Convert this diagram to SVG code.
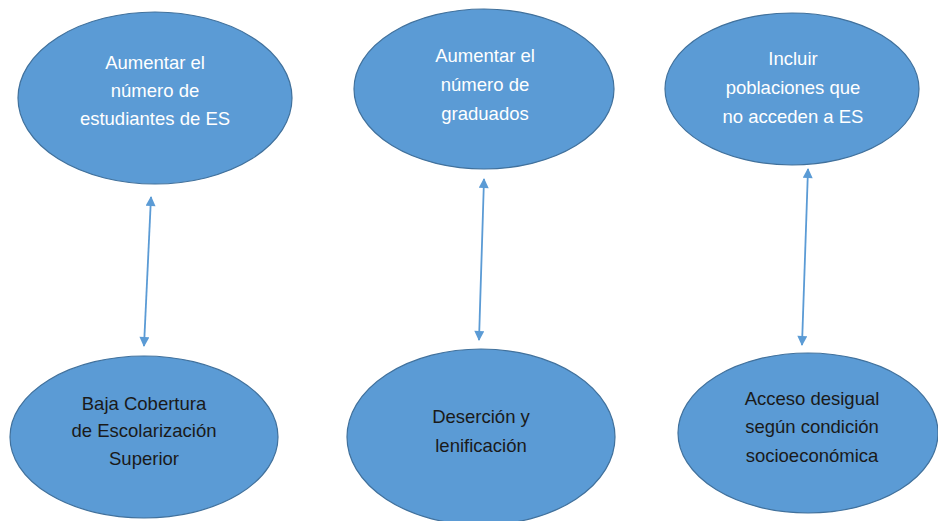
<svg xmlns="http://www.w3.org/2000/svg" width="938" height="521" viewBox="0 0 938 521">
<style>
.node ellipse{fill:#5B9BD5;stroke:#41719C;stroke-width:1.2}
text{font-family:"Liberation Sans",Arial,sans-serif;font-size:18.5px;text-anchor:middle}
.top text{fill:#ffffff}
.bot text{fill:#1a1a1a}
.conn line{stroke:#5B9BD5;stroke-width:1.8;fill:none}
</style>
<defs>
<marker id="ah" viewBox="0 0 10 10" refX="9" refY="5" markerWidth="11" markerHeight="10" markerUnits="userSpaceOnUse" orient="auto-start-reverse">
<path d="M0,0 L10,5 L0,10 z" fill="#5B9BD5"/>
</marker>
</defs>
<rect width="938" height="521" fill="#ffffff"/>
<g id="n1" class="node top">
<ellipse cx="155" cy="98" rx="137" ry="86"/>
<text x="155" y="69">Aumentar el</text>
<text x="155" y="97">número de</text>
<text x="155" y="125">estudiantes de ES</text>
</g>
<g id="n2" class="node top">
<ellipse cx="484" cy="89" rx="130" ry="80"/>
<text x="485" y="62">Aumentar el</text>
<text x="485" y="91">número de</text>
<text x="485" y="120">graduados</text>
</g>
<g id="n3" class="node top">
<ellipse cx="792" cy="89" rx="127" ry="76"/>
<text x="793" y="65">Incluir</text>
<text x="793" y="94">poblaciones que</text>
<text x="793" y="123">no acceden a ES</text>
</g>
<g id="n4" class="node bot">
<ellipse cx="144" cy="437" rx="134" ry="81"/>
<text x="144" y="410">Baja Cobertura</text>
<text x="144" y="437">de Escolarización</text>
<text x="144" y="465">Superior</text>
</g>
<g id="n5" class="node bot">
<ellipse cx="481" cy="437" rx="134" ry="88"/>
<text x="481" y="423">Deserción y</text>
<text x="481" y="452">lenificación</text>
</g>
<g id="n6" class="node bot">
<ellipse cx="808" cy="433" rx="130" ry="80"/>
<text x="812" y="405">Acceso desigual</text>
<text x="812" y="433">según condición</text>
<text x="812" y="462">socioeconómica</text>
</g>
<g id="connectors" class="conn">
<line x1="151" y1="197" x2="144" y2="346" marker-start="url(#ah)" marker-end="url(#ah)"/>
<line x1="484" y1="179" x2="479" y2="340" marker-start="url(#ah)" marker-end="url(#ah)"/>
<line x1="808" y1="169" x2="802" y2="345" marker-start="url(#ah)" marker-end="url(#ah)"/>
</g>
</svg>
